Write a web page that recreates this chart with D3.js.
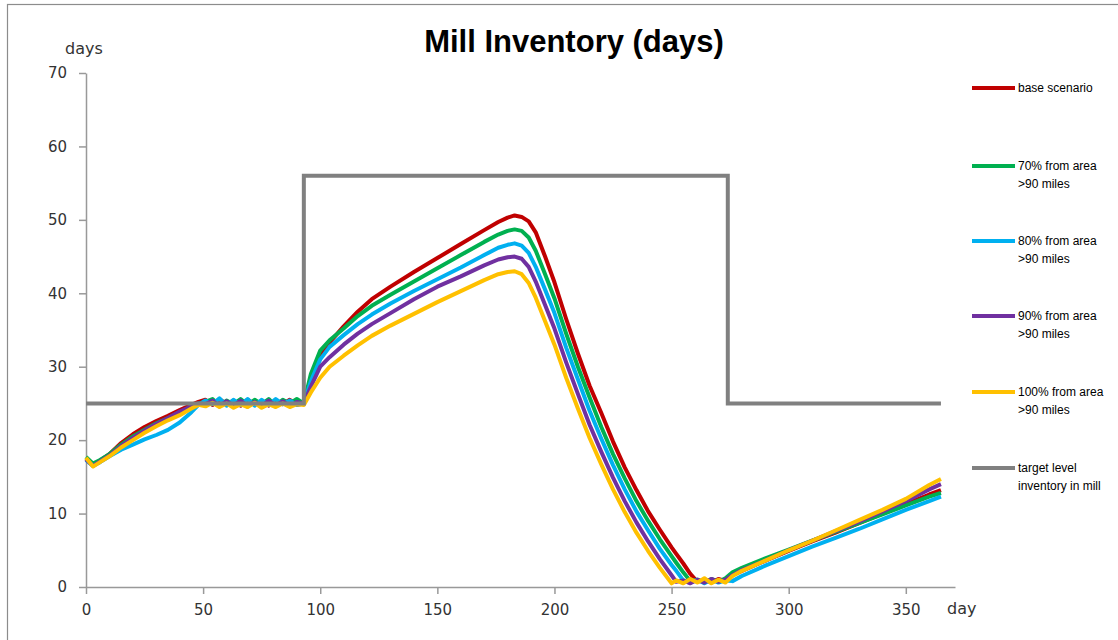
<!DOCTYPE html>
<html>
<head>
<meta charset="utf-8">
<script src="https://cdn.jsdelivr.net/npm/d3@7"></script>
<style>
  body { margin: 0; background: #fff; }
  svg { display: block; }
</style>
</head>
<body>
<div id="chart"></div>
<script>
// sample days shared by the five scenarios
const days = [0, 3, 6, 10, 15, 20, 25, 30, 35, 40, 45, 48,
  51, 54, 57, 60, 63, 66, 69, 72, 75, 78, 81, 84, 87, 90,
  93, 96, 100, 104, 110, 116, 122, 130, 140, 150, 160, 170, 176, 180, 183,
  186, 189, 192, 196, 200, 205, 210, 215, 220, 225, 230, 235, 240, 245, 250,
  252, 255, 258, 261, 264, 267, 270, 273,
  276, 280, 290, 300, 310, 320, 330, 340, 350, 360, 365];

const baseScenario = [17.5, 16.6, 17.2, 18.1, 19.6, 20.8, 21.8, 22.6, 23.3, 24.1, 24.8, 25.2,
  25.5, 24.8, 25.6, 24.9, 25.4, 24.7, 25.5, 24.9, 25.3, 24.7, 25.4, 24.9, 25.5, 24.8,
  25.0, 28.5, 31.5, 33.3, 35.5, 37.5, 39.2, 40.9, 42.9, 44.8, 46.7, 48.6, 49.7, 50.3, 50.6,
  50.4, 49.8, 48.3, 45.0, 41.5, 36.5, 31.8, 27.4, 23.7, 19.8, 16.3, 13.2, 10.3, 7.8, 5.4,
  4.5, 3.2, 1.8, 0.7, 1.0, 0.6, 1.1, 0.8,
  1.6, 2.2, 3.6, 4.9, 6.2, 7.4, 8.7, 10.0, 11.3, 12.6, 13.2];

const from70 = [17.7, 16.8, 17.3, 18.1, 19.4, 20.5, 21.4, 22.3, 23.0, 23.8, 24.6, 25.0,
  25.2, 25.6, 24.7, 25.4, 24.9, 25.6, 24.8, 25.5, 24.9, 25.6, 24.7, 25.5, 25.0, 25.6,
  25.0, 29.0, 32.2, 33.6, 35.2, 36.9, 38.3, 39.8, 41.6, 43.4, 45.2, 47.0, 48.0, 48.5, 48.7,
  48.5, 47.6, 45.8, 42.6, 39.3, 34.5, 30.0, 25.8, 21.8, 18.1, 14.8, 11.7, 9.0, 6.5, 4.2,
  3.3, 2.0, 0.8, 1.0, 0.6, 1.1, 0.7, 1.2,
  2.0, 2.6, 3.9, 5.1, 6.3, 7.5, 8.7, 9.9, 11.1, 12.3, 12.8];

const from80 = [17.3, 16.5, 17.0, 17.8, 18.7, 19.4, 20.1, 20.7, 21.4, 22.4, 23.8, 24.8,
  25.4, 24.9, 25.7, 24.7, 25.5, 24.8, 25.6, 24.7, 25.5, 24.8, 25.6, 24.9, 25.4, 24.8,
  25.0, 28.0, 31.0, 32.7, 34.3, 35.8, 37.1, 38.6, 40.3, 41.9, 43.5, 45.2, 46.2, 46.6, 46.8,
  46.5, 45.5, 43.6, 40.5, 37.3, 32.6, 28.3, 24.0, 20.2, 16.6, 13.3, 10.3, 7.7, 5.2, 3.0,
  2.2, 0.9, 0.6, 1.0, 0.5, 1.0, 0.6, 0.9,
  0.8, 1.5, 2.9, 4.2, 5.5, 6.7, 7.9, 9.2, 10.5, 11.7, 12.3];

const from90 = [17.4, 16.5, 17.1, 17.9, 19.2, 20.3, 21.3, 22.2, 23.0, 23.9, 24.6, 25.0,
  24.9, 25.4, 24.6, 25.3, 24.7, 25.4, 24.6, 25.2, 24.6, 25.4, 24.7, 25.3, 24.6, 25.2,
  25.0, 27.3, 30.0, 31.3, 33.0, 34.5, 35.8, 37.3, 39.2, 40.9, 42.3, 43.8, 44.6, 44.9, 45.0,
  44.7, 43.6, 41.6, 38.4, 35.2, 30.6, 26.3, 22.1, 18.4, 14.9, 11.7, 8.8, 6.2, 3.8, 1.6,
  0.7, 0.9, 0.5, 1.0, 0.6, 1.1, 0.7, 1.0,
  1.6, 2.3, 3.6, 5.0, 6.3, 7.6, 8.9, 10.3, 11.7, 13.3, 14.0];

const from100 = [17.6, 16.4, 17.0, 17.8, 19.0, 20.0, 21.0, 21.9, 22.7, 23.4, 24.3, 24.8,
  24.6, 25.1, 24.5, 25.0, 24.4, 24.9, 24.5, 25.1, 24.4, 24.9, 24.5, 25.0, 24.5, 24.9,
  24.8, 26.5, 28.5, 30.0, 31.5, 32.9, 34.2, 35.6, 37.2, 38.8, 40.3, 41.8, 42.6, 42.9, 43.0,
  42.6, 41.4, 39.4, 36.2, 33.0, 28.5, 24.3, 20.3, 16.7, 13.3, 10.2, 7.4, 4.9, 2.6, 0.5,
  0.9, 0.5, 1.1, 0.6, 1.2, 0.5, 1.0, 0.6,
  1.5, 2.2, 3.6, 5.0, 6.3, 7.7, 9.1, 10.5, 12.0, 13.9, 14.7];

// target level inventory in mill (step line)
const targetDays = [0, 93, 93, 274, 274, 365];
const targetLevel = [25, 25, 56, 56, 25, 25];

const seriesNames = ["base scenario", "70% from area|>90 miles", "80% from area|>90 miles",
  "90% from area|>90 miles", "100% from area|>90 miles", "target level|inventory in mill"];
const seriesColors = ["#C00000", "#00B050", "#00B0F0", "#7030A0", "#FFC000", "#808080"];

const yTicks = [0, 10, 20, 30, 40, 50, 60, 70];
const xTicks = [0, 50, 100, 150, 200, 250, 300, 350];

const W = 1118, H = 640;
const svg = d3.select("#chart").append("svg").attr("width", W).attr("height", H);

// chart frame
svg.append("rect")
  .attr("x", 7.5).attr("y", 4.5).attr("width", 1200).attr("height", 700)
  .attr("fill", "none").attr("stroke", "#8c8c8c").attr("stroke-width", 1.2);

const x = d3.scaleLinear().domain([0, 371]).range([86, 955]);
const y = d3.scaleLinear().domain([0, 70]).range([587, 73]);

const axisColor = "#999";
const tickFont = "DejaVu Sans, Verdana, sans-serif";

const yAxis = svg.append("g")
  .attr("transform", "translate(86,0)")
  .call(d3.axisLeft(y).tickValues(yTicks).tickSize(7).tickSizeOuter(0).tickPadding(12));
const xAxis = svg.append("g")
  .attr("transform", "translate(0,587)")
  .call(d3.axisBottom(x).tickValues(xTicks).tickSize(7).tickSizeOuter(0).tickPadding(10));

[xAxis, yAxis].forEach(g => {
  g.select(".domain").attr("stroke", axisColor).attr("stroke-width", 1.5);
  g.selectAll(".tick line").attr("stroke", axisColor).attr("stroke-width", 1.5);
  g.selectAll("text").attr("fill", "#333").style("font-family", tickFont).style("font-size", "15px");
});

// axis titles
svg.append("text").attr("x", 65).attr("y", 54).text("days")
  .attr("fill", "#333").style("font-family", tickFont).style("font-size", "16px");
svg.append("text").attr("x", 947).attr("y", 614).text("day")
  .attr("fill", "#333").style("font-family", tickFont).style("font-size", "16px");

// title
svg.append("text").attr("x", 574).attr("y", 52).attr("text-anchor", "middle")
  .text("Mill Inventory (days)")
  .style("font-family", "Liberation Sans, Arial, sans-serif")
  .style("font-weight", "bold").style("font-size", "31px").attr("fill", "#000");

const line = d3.line().x(d => x(d[0])).y(d => y(d[1]));

const scenarios = [baseScenario, from70, from80, from90, from100];
scenarios.forEach((vals, i) => {
  svg.append("path")
    .datum(days.map((d, j) => [d, vals[j]]))
    .attr("d", line)
    .attr("fill", "none")
    .attr("stroke", seriesColors[i])
    .attr("stroke-width", 4)
    .attr("stroke-linejoin", "round");
});

svg.append("path")
  .datum(targetDays.map((d, j) => [d, targetLevel[j]]))
  .attr("d", line)
  .attr("fill", "none")
  .attr("stroke", seriesColors[5])
  .attr("stroke-width", 4);

// legend
const legendY = [88, 166, 241, 316, 392, 468];
seriesNames.forEach((name, i) => {
  const g = svg.append("g").attr("transform", `translate(972,${legendY[i]})`);
  g.append("line").attr("x1", 0).attr("x2", 43).attr("y1", 0).attr("y2", 0)
    .attr("stroke", seriesColors[i]).attr("stroke-width", 4);
  const t = g.append("text").attr("x", 46).attr("y", 4)
    .style("font-family", "Liberation Sans, Arial, sans-serif")
    .style("font-size", "12px").attr("fill", "#000");
  name.split("|").forEach((part, k) => {
    t.append("tspan").attr("x", 46).attr("dy", k === 0 ? 0 : 18).text(part);
  });
});
</script>
</body>
</html>
